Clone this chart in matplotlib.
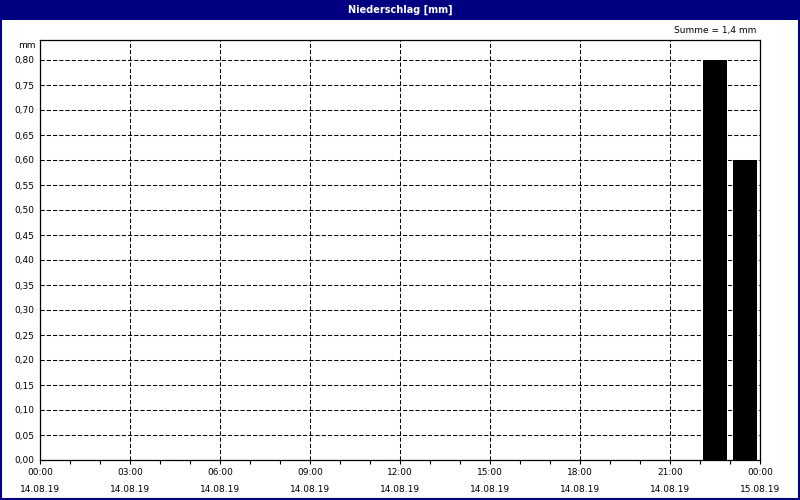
import matplotlib.pyplot as plt
from matplotlib.patches import Rectangle

# hourly precipitation, 14.08.19 00:00 .. 15.08.19 00:00
hours = [22.5, 23.5]
rain = [0.80, 0.60]

tick_hours = list(range(0, 25, 3))
tick_times = ["00:00", "03:00", "06:00", "09:00", "12:00", "15:00", "18:00", "21:00", "00:00"]
tick_dates = ["14.08.19"] * 8 + ["15.08.19"]
y_ticks = [i * 0.05 for i in range(17)]

navy = "#000080"

fig = plt.figure(figsize=(8, 5), dpi=100)
fig.patch.set_facecolor("white")

# title bar and frame
fig.patches.append(Rectangle((0, 0.96), 1, 0.04, transform=fig.transFigure,
                             facecolor=navy, edgecolor="none", zorder=0))
fig.patches.append(Rectangle((0.001, 0.002), 0.998, 0.996, transform=fig.transFigure,
                             facecolor="none", edgecolor=navy, linewidth=1.5, zorder=5))
fig.text(0.5, 0.98, "Niederschlag [mm]", color="white", ha="center", va="center",
         fontsize=7, fontweight="bold")

ax = fig.add_axes([0.05, 0.08, 0.9, 0.84])
ax.bar(hours, rain, width=0.8, color="black", zorder=3)

ax.set_xlim(0, 24)
ax.set_ylim(0, 0.84)
ax.set_yticks(y_ticks)
ax.set_yticklabels([f"{v:.2f}".replace(".", ",") for v in y_ticks])
ax.set_xticks(tick_hours)
ax.set_xticklabels([f"{t}\n\n{d}" for t, d in zip(tick_times, tick_dates)], linespacing=0.9)
ax.set_xticks(range(25), minor=True)

ax.tick_params(axis="y", length=0, labelsize=6.5, pad=4)
ax.tick_params(axis="x", which="both", length=3, width=0.8, direction="out",
               labelsize=6.5, pad=3)

ax.grid(True, which="major", color="black", linestyle=(0, (4, 2)), linewidth=0.75, zorder=1)
for s in ax.spines.values():
    s.set_linewidth(0.9)

fig.text(0.045, 0.91, "mm", ha="right", va="center", fontsize=6.5)
fig.text(0.945, 0.94, "Summe = 1,4 mm", ha="right", va="center", fontsize=6.5)

fig.savefig("out.png", dpi=100)
